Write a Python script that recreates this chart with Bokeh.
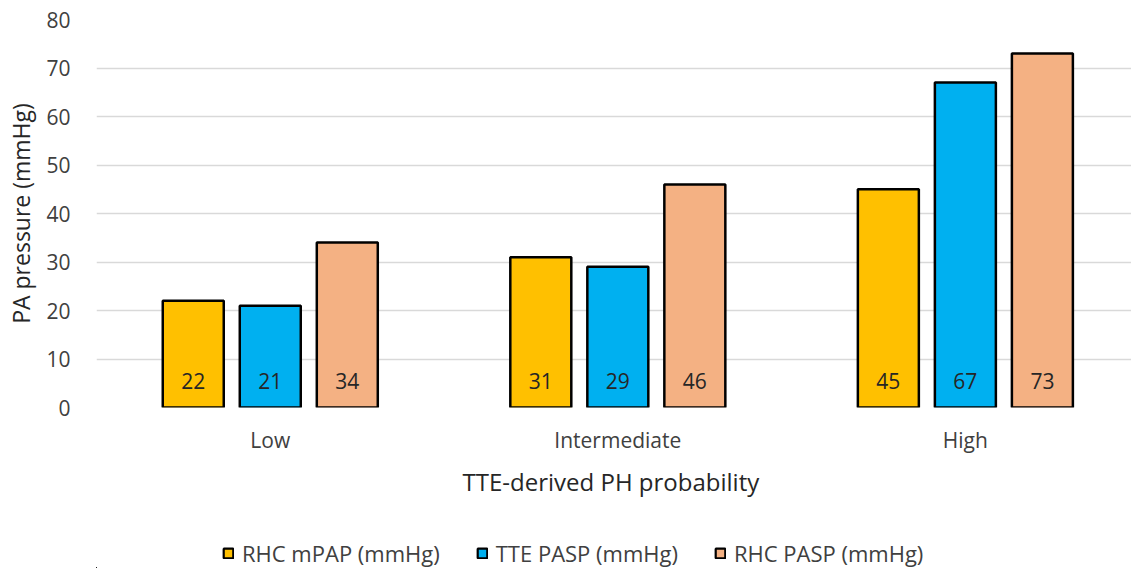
from bokeh.plotting import figure
from bokeh.layouts import column
from bokeh.models import ColumnDataSource, LabelSet, Legend, LegendItem, FixedTicker, Range1d
from bokeh.core.properties import value
from bokeh.transform import dodge
from bokeh.embed import file_html
from bokeh.resources import INLINE

categories = ["Low", "Intermediate", "High"]
series_names = ["RHC mPAP (mmHg)", "TTE PASP (mmHg)", "RHC PASP (mmHg)"]
rhc_mpap = [22, 31, 45]
tte_pasp = [21, 29, 67]
rhc_pasp = [34, 46, 73]
colors = ["#FFC000", "#00B0F0", "#F4B183"]
y_ticks = [0, 10, 20, 30, 40, 50, 60, 70, 80]

FONT = "Open Sans"
centers = [i + 0.5 for i in range(len(categories))]
src = ColumnDataSource(dict(
    x=centers,
    s0=rhc_mpap, s1=tte_pasp, s2=rhc_pasp,
    t0=[str(v) for v in rhc_mpap],
    t1=[str(v) for v in tte_pasp],
    t2=[str(v) for v in rhc_pasp],
    zero=[0] * len(categories),
))

p = figure(frame_width=1035, frame_height=388, output_backend="svg", toolbar_location=None,
           x_range=Range1d(0, 2.978), y_range=Range1d(0, 80),
           min_border_left=96, min_border_right=0, min_border_top=19,
           min_border_bottom=113)
p.outline_line_color = None
p.background_fill_color = "white"
p.border_fill_color = "white"

bw = 0.1755
offs = [-0.2216, 0.0, 0.2216]
for i in range(3):
    p.vbar(x=dodge("x", offs[i]), top="s%d" % i, width=bw, bottom=0, source=src,
           fill_color=colors[i], line_color="black", line_width=2.5)
    lbl = LabelSet(x=dodge("x", offs[i]), y="zero", text="t%d" % i, source=src,
                   y_offset=27, text_align="center", text_baseline="middle",
                   text_font=value(FONT), text_font_size="21px", text_color="#262626")
    p.add_layout(lbl)

p.xgrid.grid_line_color = None
p.ygrid.grid_line_color = "#d9d9d9"
p.ygrid.grid_line_width = 1.3
p.ygrid.ticker = FixedTicker(ticks=y_ticks)

p.yaxis.ticker = FixedTicker(ticks=y_ticks)
p.yaxis.axis_line_color = None
p.yaxis.major_tick_line_color = None
p.yaxis.minor_tick_line_color = None
p.yaxis.major_label_standoff = 20
p.yaxis.major_label_text_font = FONT
p.yaxis.major_label_text_font_size = "21px"
p.yaxis.major_label_text_color = "#404040"
p.yaxis.axis_label = "PA pressure (mmHg)"
p.yaxis.axis_label_text_font = FONT
p.yaxis.axis_label_text_font_size = "23px"
p.yaxis.axis_label_text_font_style = "normal"
p.yaxis.axis_label_text_color = "#262626"
p.yaxis.axis_label_standoff = 6

p.xaxis.ticker = FixedTicker(ticks=centers)
p.xaxis.major_label_overrides = {c: n for c, n in zip(centers, categories)}
p.xaxis.axis_line_color = None
p.xaxis.major_tick_line_color = None
p.xaxis.minor_tick_line_color = None
p.xaxis.major_label_standoff = 12
p.xaxis.major_label_text_font = FONT
p.xaxis.major_label_text_font_size = "21px"
p.xaxis.major_label_text_color = "#404040"
p.xaxis.axis_label = "TTE-derived  PH probability"
p.xaxis.axis_label_text_font = FONT
p.xaxis.axis_label_text_font_size = "24px"
p.xaxis.axis_label_text_font_style = "normal"
p.xaxis.axis_label_text_color = "#262626"
p.xaxis.axis_label_standoff = 8

# legend strip below the chart (proxy bars of the same data, kept far out of its view)
lg = figure(frame_width=1131, frame_height=48, output_backend="svg", toolbar_location=None,
            x_range=Range1d(100, 101), y_range=Range1d(1000, 1001),
            min_border=0, min_border_left=0, min_border_right=0,
            min_border_top=0, min_border_bottom=0)
lg.outline_line_color = None
lg.axis.visible = False
lg.grid.visible = False
lg.border_fill_color = "white"
lg.background_fill_color = "white"
leg_renderers = []
for i in range(3):
    r = lg.vbar(x=dodge("x", offs[i]), top="s%d" % i, width=bw, bottom=0, source=src,
                fill_color=colors[i], line_color="black", line_width=2.2)
    leg_renderers.append(r)

legend = Legend(items=[LegendItem(label=n, renderers=[r]) for n, r in zip(series_names, leg_renderers)],
                orientation="horizontal", location=(222, 0),
                label_text_font=FONT, label_text_font_size="22px", label_text_color="#404040",
                glyph_width=12, glyph_height=12, spacing=36, label_standoff=8,
                border_line_color=None, background_fill_alpha=0, margin=0, padding=4)
lg.add_layout(legend, "center")

layout = column(p, lg, spacing=0)
open("out.html", "w").write(file_html(layout, INLINE))
